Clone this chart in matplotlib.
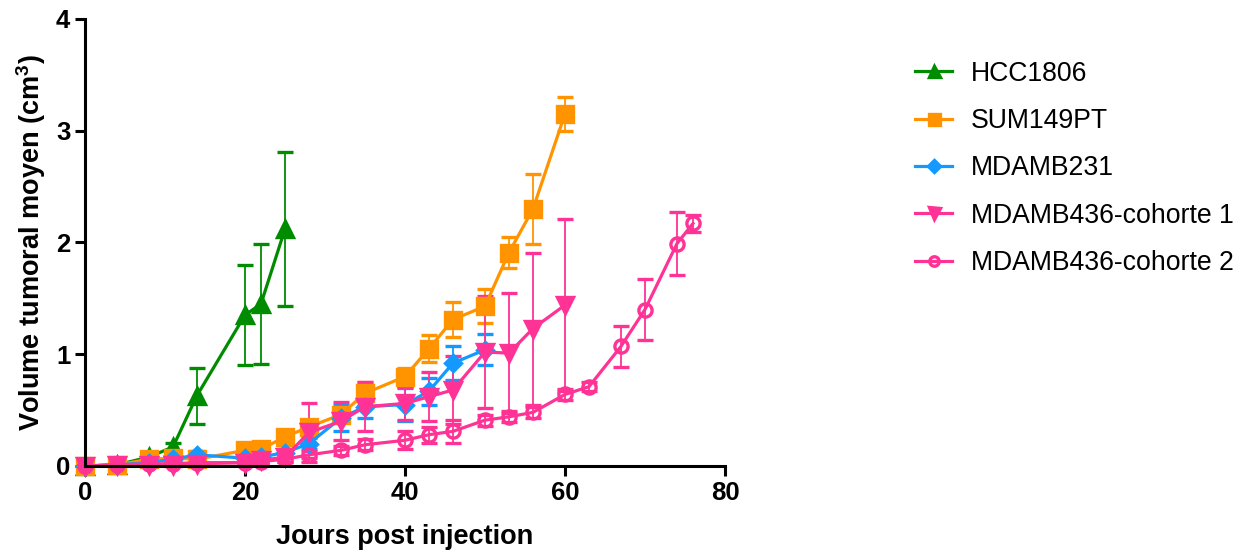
import matplotlib
matplotlib.use('Agg')
import matplotlib.pyplot as plt

plt.rcParams['font.family'] = ['Liberation Sans', 'DejaVu Sans']
plt.rcParams['mathtext.fontset'] = 'custom'
plt.rcParams['mathtext.rm'] = 'Liberation Sans:bold'
plt.rcParams['mathtext.default'] = 'rm'

# Données (jours post injection, volume moyen en cm3, écart)
jours_hcc = [0, 4, 8, 11, 14, 20, 22, 25]
vol_hcc = [0, 0.01, 0.08, 0.17, 0.63, 1.35, 1.45, 2.12]
err_hcc = [0, 0.01, 0.03, 0.04, 0.25, 0.45, 0.54, 0.69]

jours_sum = [0, 4, 8, 11, 14, 20, 22, 25, 28, 32, 35, 40, 43, 46, 50, 53, 56, 60]
vol_sum = [0, 0.01, 0.06, 0.07, 0.06, 0.14, 0.15, 0.26, 0.35, 0.46, 0.65, 0.80,
           1.05, 1.31, 1.43, 1.91, 2.30, 3.15]
err_sum = [0, 0.01, 0.02, 0.02, 0.02, 0.03, 0.03, 0.04, 0.05, 0.06, 0.10, 0.08,
           0.12, 0.16, 0.15, 0.14, 0.31, 0.15]

jours_231 = [0, 4, 8, 11, 14, 20, 22, 25, 28, 32, 35, 40, 43, 46, 50]
vol_231 = [0, 0.01, 0.03, 0.06, 0.10, 0.07, 0.08, 0.12, 0.20, 0.43, 0.53, 0.55,
           0.67, 0.92, 1.04]
err_231 = [0, 0.01, 0.01, 0.02, 0.03, 0.02, 0.02, 0.03, 0.05, 0.12, 0.10, 0.15,
           0.12, 0.15, 0.14]

jours_436a = [0, 4, 8, 11, 14, 20, 22, 25, 28, 32, 35, 40, 43, 46, 50, 53, 56, 60]
vol_436a = [0, 0.01, 0.01, 0.01, 0.02, 0.03, 0.05, 0.08, 0.30, 0.40, 0.53, 0.56,
            0.62, 0.68, 1.02, 1.01, 1.23, 1.44]
err_436a = [0, 0.01, 0.01, 0.01, 0.01, 0.02, 0.02, 0.04, 0.26, 0.17, 0.22, 0.15,
            0.22, 0.30, 0.50, 0.54, 0.68, 0.77]

jours_436b = [0, 4, 8, 11, 14, 20, 22, 25, 28, 32, 35, 40, 43, 46, 50, 53, 56,
              60, 63, 67, 70, 74, 76]
vol_436b = [0, 0.01, 0.02, 0.02, 0.03, 0.03, 0.04, 0.06, 0.10, 0.14, 0.19, 0.23,
            0.28, 0.31, 0.41, 0.44, 0.48, 0.64, 0.71, 1.07, 1.40, 1.99, 2.17]
err_436b = [0, 0.01, 0.01, 0.01, 0.01, 0.01, 0.02, 0.02, 0.03, 0.04, 0.05, 0.08,
            0.07, 0.10, 0.05, 0.05, 0.05, 0.05, 0.04, 0.18, 0.27, 0.28, 0.08]

vert = '#008C00'
orange = '#FF9400'
bleu = '#1499FF'
rose = '#FF3395'

fig = plt.figure(figsize=(12.53, 5.57), dpi=100)
ax = fig.add_axes([0.0678, 0.1634, 0.5108, 0.8025])

series = [
    (jours_hcc, vol_hcc, err_hcc, vert, '^', vert, 'HCC1806'),
    (jours_sum, vol_sum, err_sum, orange, 's', orange, 'SUM149PT'),
    (jours_231, vol_231, err_231, bleu, 'D', bleu, 'MDAMB231'),
    (jours_436a, vol_436a, err_436a, rose, 'v', rose, 'MDAMB436-cohorte 1'),
    (jours_436b, vol_436b, err_436b, rose, 'o', 'none', 'MDAMB436-cohorte 2'),
]

for x, y, e, c, m, fc, lab in series:
    ms = 11 if m != 'D' else 8
    if m == 'o':
        ms = 9.5
    ax.errorbar(x, y, yerr=e, color=c, marker=m, markersize=ms,
                markerfacecolor=fc, markeredgecolor=c, markeredgewidth=2.4,
                linewidth=2.3, elinewidth=1.3, capsize=6, capthick=1.3,
                label=lab, clip_on=False)

ax.set_xlim(0, 80)
ax.set_ylim(0, 4)
ax.set_xticks([0, 20, 40, 60, 80])
ax.set_yticks([0, 1, 2, 3, 4])
for s in ['top', 'right']:
    ax.spines[s].set_visible(False)
for s in ['left', 'bottom']:
    ax.spines[s].set_linewidth(2.2)
ax.tick_params(width=2.2, length=7, labelsize=18.5)
for t in ax.get_xticklabels() + ax.get_yticklabels():
    t.set_fontweight('bold')

ax.set_xlabel('Jours post injection', fontsize=19.5, fontweight='bold', labelpad=14)
ax.set_ylabel('Volume tumoral moyen (cm$^{3}$)', fontsize=19.5, fontweight='bold', labelpad=6)

handles, labels = ax.get_legend_handles_labels()
handles = [h[0] for h in handles]
fig.legend(handles, labels, loc='upper left', bbox_to_anchor=(0.7196, 0.915),
           frameon=False, fontsize=19.2, markerscale=0.72, handlelength=1.4,
           handletextpad=0.7, labelspacing=0.8, borderpad=0)

fig.savefig('out.png', dpi=100)
